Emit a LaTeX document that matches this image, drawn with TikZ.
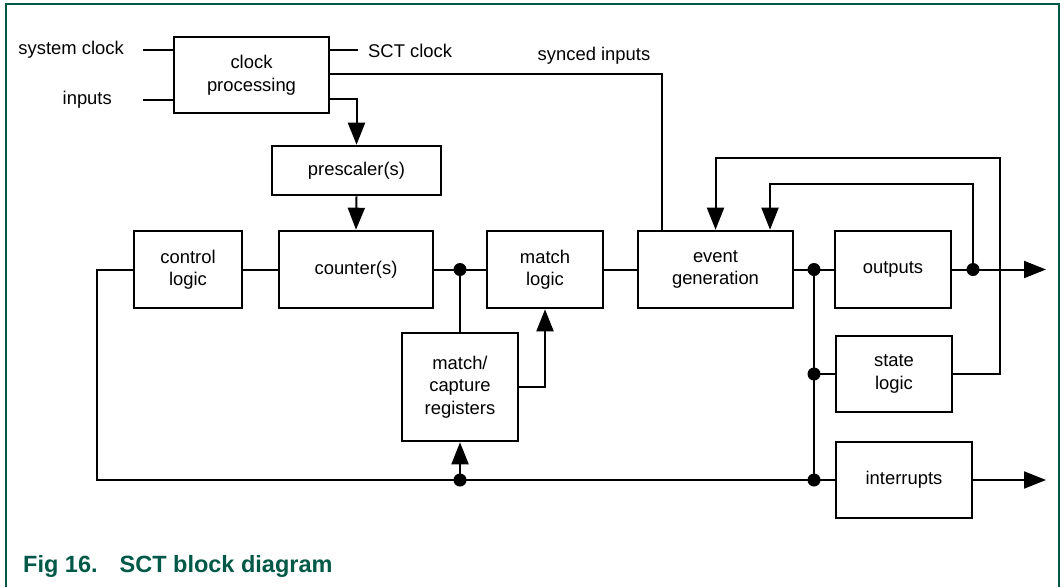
\documentclass[tikz,border=0pt]{standalone}
\usepackage{fontspec}
\setmainfont{Liberation Sans}
\usepackage{tikz}
\usetikzlibrary{arrows.meta,calc}
\definecolor{figgreen}{RGB}{0,88,70}
\newcommand{\lblfont}{\fontsize{18.4pt}{22.5pt}\selectfont}
\newcommand{\captfont}{\fontsize{23.5pt}{28pt}\selectfont\bfseries}
\tikzset{
    block/.style={draw, rectangle, line width=2.6pt, inner sep=0pt, align=center, font=\lblfont},
    lbl/.style={inner sep=0pt, font=\lblfont},
    wire/.style={line width=2pt},
    sig/.style={wire, -{Triangle[length=22pt, width=17pt]}},
    dot/.style={circle, fill, inner sep=0pt, minimum size=13pt}
}

\begin{document}
\begin{tikzpicture}[x=1pt, y=-1pt]
    \useasboundingbox (0,0) rectangle (1061,587);
    \draw[figgreen, line width=2pt] (6,587) -- (6,4) -- (1059,4) -- (1059,587);

    \node[block, minimum width=155pt, minimum height=76pt] (clk) at (251.5,75) {clock\\processing};
    \node[block, minimum width=169pt, minimum height=49pt] (presc) at (356.5,170.5) {prescaler(s)};
    \node[block, minimum width=108pt, minimum height=77pt] (ctrl) at (188,269.5) {control\\logic};
    \node[block, minimum width=154pt, minimum height=77pt] (cnt) at (356,269.5) {counter(s)};
    \node[block, minimum width=116pt, minimum height=77pt] (mlog) at (545,269.5) {match\\logic};
    \node[block, minimum width=155pt, minimum height=77pt] (evgen) at (715.5,269.5) {event\\generation};
    \node[block, minimum width=116pt, minimum height=77pt] (outp) at (893,269.5) {outputs};
    \node[block, minimum width=116pt, minimum height=76pt] (state) at (894,374) {state\\logic};
    \node[block, minimum width=136pt, minimum height=76pt] (irq) at (904,480) {interrupts};
    \node[block, minimum width=116pt, minimum height=108pt] (mcap) at (460,387) {match/\\capture\\registers};

    \node[lbl, anchor=east] (sysclk) at (124,50) {system clock};
    \node[lbl, anchor=east] (inp) at (112,100) {inputs};
    \node[lbl, anchor=west] (sctclk) at (368,51) {SCT clock};
    \node[lbl] (synced) at (594,56) {synced inputs};

    \node[dot] (j1) at (460,269.5) {};
    \node[dot] (j2) at (814,269.5) {};
    \node[dot] (j3) at (814,374) {};
    \node[dot] (j4) at (814,480) {};
    \node[dot] (j5) at (460,480) {};
    \node[dot] (j6) at (973,269.5) {};
    \coordinate (outpin) at (1046,269.5);
    \coordinate (irqout) at (1046,480);

    % clock side
    \draw[wire] ([xshift=19pt]sysclk.east) -- (sysclk.east -| clk.west);
    \draw[wire] ([xshift=31pt]inp.east) -- (inp.east -| clk.west);
    \draw[wire] (sysclk.east -| clk.east) -- ([xshift=-10pt]sctclk.west |- sysclk.east);
    \draw[wire] ([yshift=1pt]clk.east) -| ([xshift=-53.5pt]evgen.north);
    \draw[sig] ([yshift=-24pt]clk.east) -| (presc.north);
    \draw[sig] (presc.south) -- (cnt.north);

    % main row
    \draw[wire] (ctrl) -- (cnt);
    \draw[wire] (cnt) -- (mlog);
    \draw[wire] (mlog) -- (evgen);
    \draw[wire] (evgen) -- (outp);
    \draw[wire] (mcap.north) -- (j1.center);
    \draw[sig] (mcap.east) -| (mlog.south);

    % bus
    \draw[wire] (j2.center) -- (j4.center);
    \draw[wire] (j3.center) -- (state.west);
    \draw[wire] (ctrl.west) -- ++(-36pt,0) |- (j4.center) -- (irq.west);
    \draw[sig] (j5.center) -- (mcap.south);

    % outputs and feedback
    \draw[sig] (outp.east) -- (outpin);
    \draw[sig] (irq.east) -- (irqout);
    \draw[sig] (j6.center) |- ([xshift=54.5pt, yshift=46pt]evgen.north) -- ([xshift=54.5pt]evgen.north);
    \draw[sig] (state.east) -- ++(47pt,0) |- ([yshift=72pt]evgen.north) -- (evgen.north);

    \node[anchor=base west, inner sep=0pt, font=\captfont, text=figgreen] (caption) at (23,572) {Fig 16.\hspace{22pt}SCT block diagram};
\end{tikzpicture}
\end{document}
